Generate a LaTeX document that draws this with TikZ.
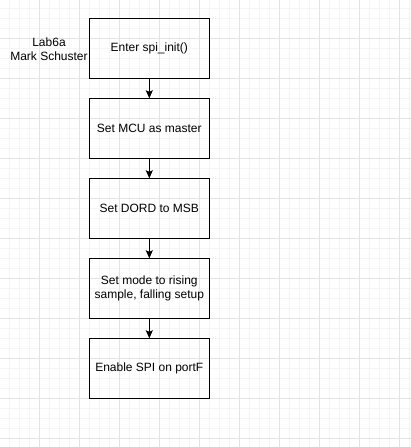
\documentclass[tikz,border=0pt]{standalone}
\usepackage{fontspec}
\setmainfont{Liberation Sans}
\usetikzlibrary{positioning,arrows.meta}

\begin{document}
\begin{tikzpicture}[x=1pt,y=-1pt,
   stepbox/.style={draw, line width=1pt, minimum width=120pt, minimum height=60pt,
                   align=center, inner sep=2pt, outer sep=0pt, font=\fontsize{12}{14}\selectfont},
   flow/.style={-{Stealth[length=8pt,width=7pt,inset=1.5pt]}, line width=1pt},
   gridminor/.style={black!4, line width=0.6pt},
   gridmajor/.style={black!11, line width=0.8pt},
   node distance=20pt]

   % page and grid
   \fill[white] (0,0) rectangle (411,447);
   \useasboundingbox (0,0) rectangle (411,447);
   \foreach \k in {0,...,41} {
     \draw[gridminor] (9.3+10*\k,0) -- (9.3+10*\k,447);
   }
   \foreach \k in {0,...,44} {
     \draw[gridminor] (0,8.3+10*\k) -- (411,8.3+10*\k);
   }
   \foreach \k in {0,...,9} {
     \draw[gridmajor] (39.3+40*\k,0) -- (39.3+40*\k,447);
   }
   \foreach \k in {0,...,10} {
     \draw[gridmajor] (0,38.3+40*\k) -- (411,38.3+40*\k);
   }

   % flow
   \node[stepbox] (enter) at (149.3,48.3) {Enter spi\_init()};
   \node[stepbox, below=of enter] (master) {Set MCU as master};
   \node[stepbox, below=of master] (dord) {Set DORD to MSB};
   \node[stepbox, below=of dord] (mode) {Set mode to rising\\sample, falling setup};
   \node[stepbox, below=of mode] (spien) {Enable SPI on portF};

   \node[align=center, font=\fontsize{12}{14}\selectfont] (author) at (49,49) {Lab6a\\Mark Schuster};

   \draw[flow] (enter) -- (master);
   \draw[flow] (master) -- (dord);
   \draw[flow] (dord) -- (mode);
   \draw[flow] (mode) -- (spien);
\end{tikzpicture}
\end{document}
